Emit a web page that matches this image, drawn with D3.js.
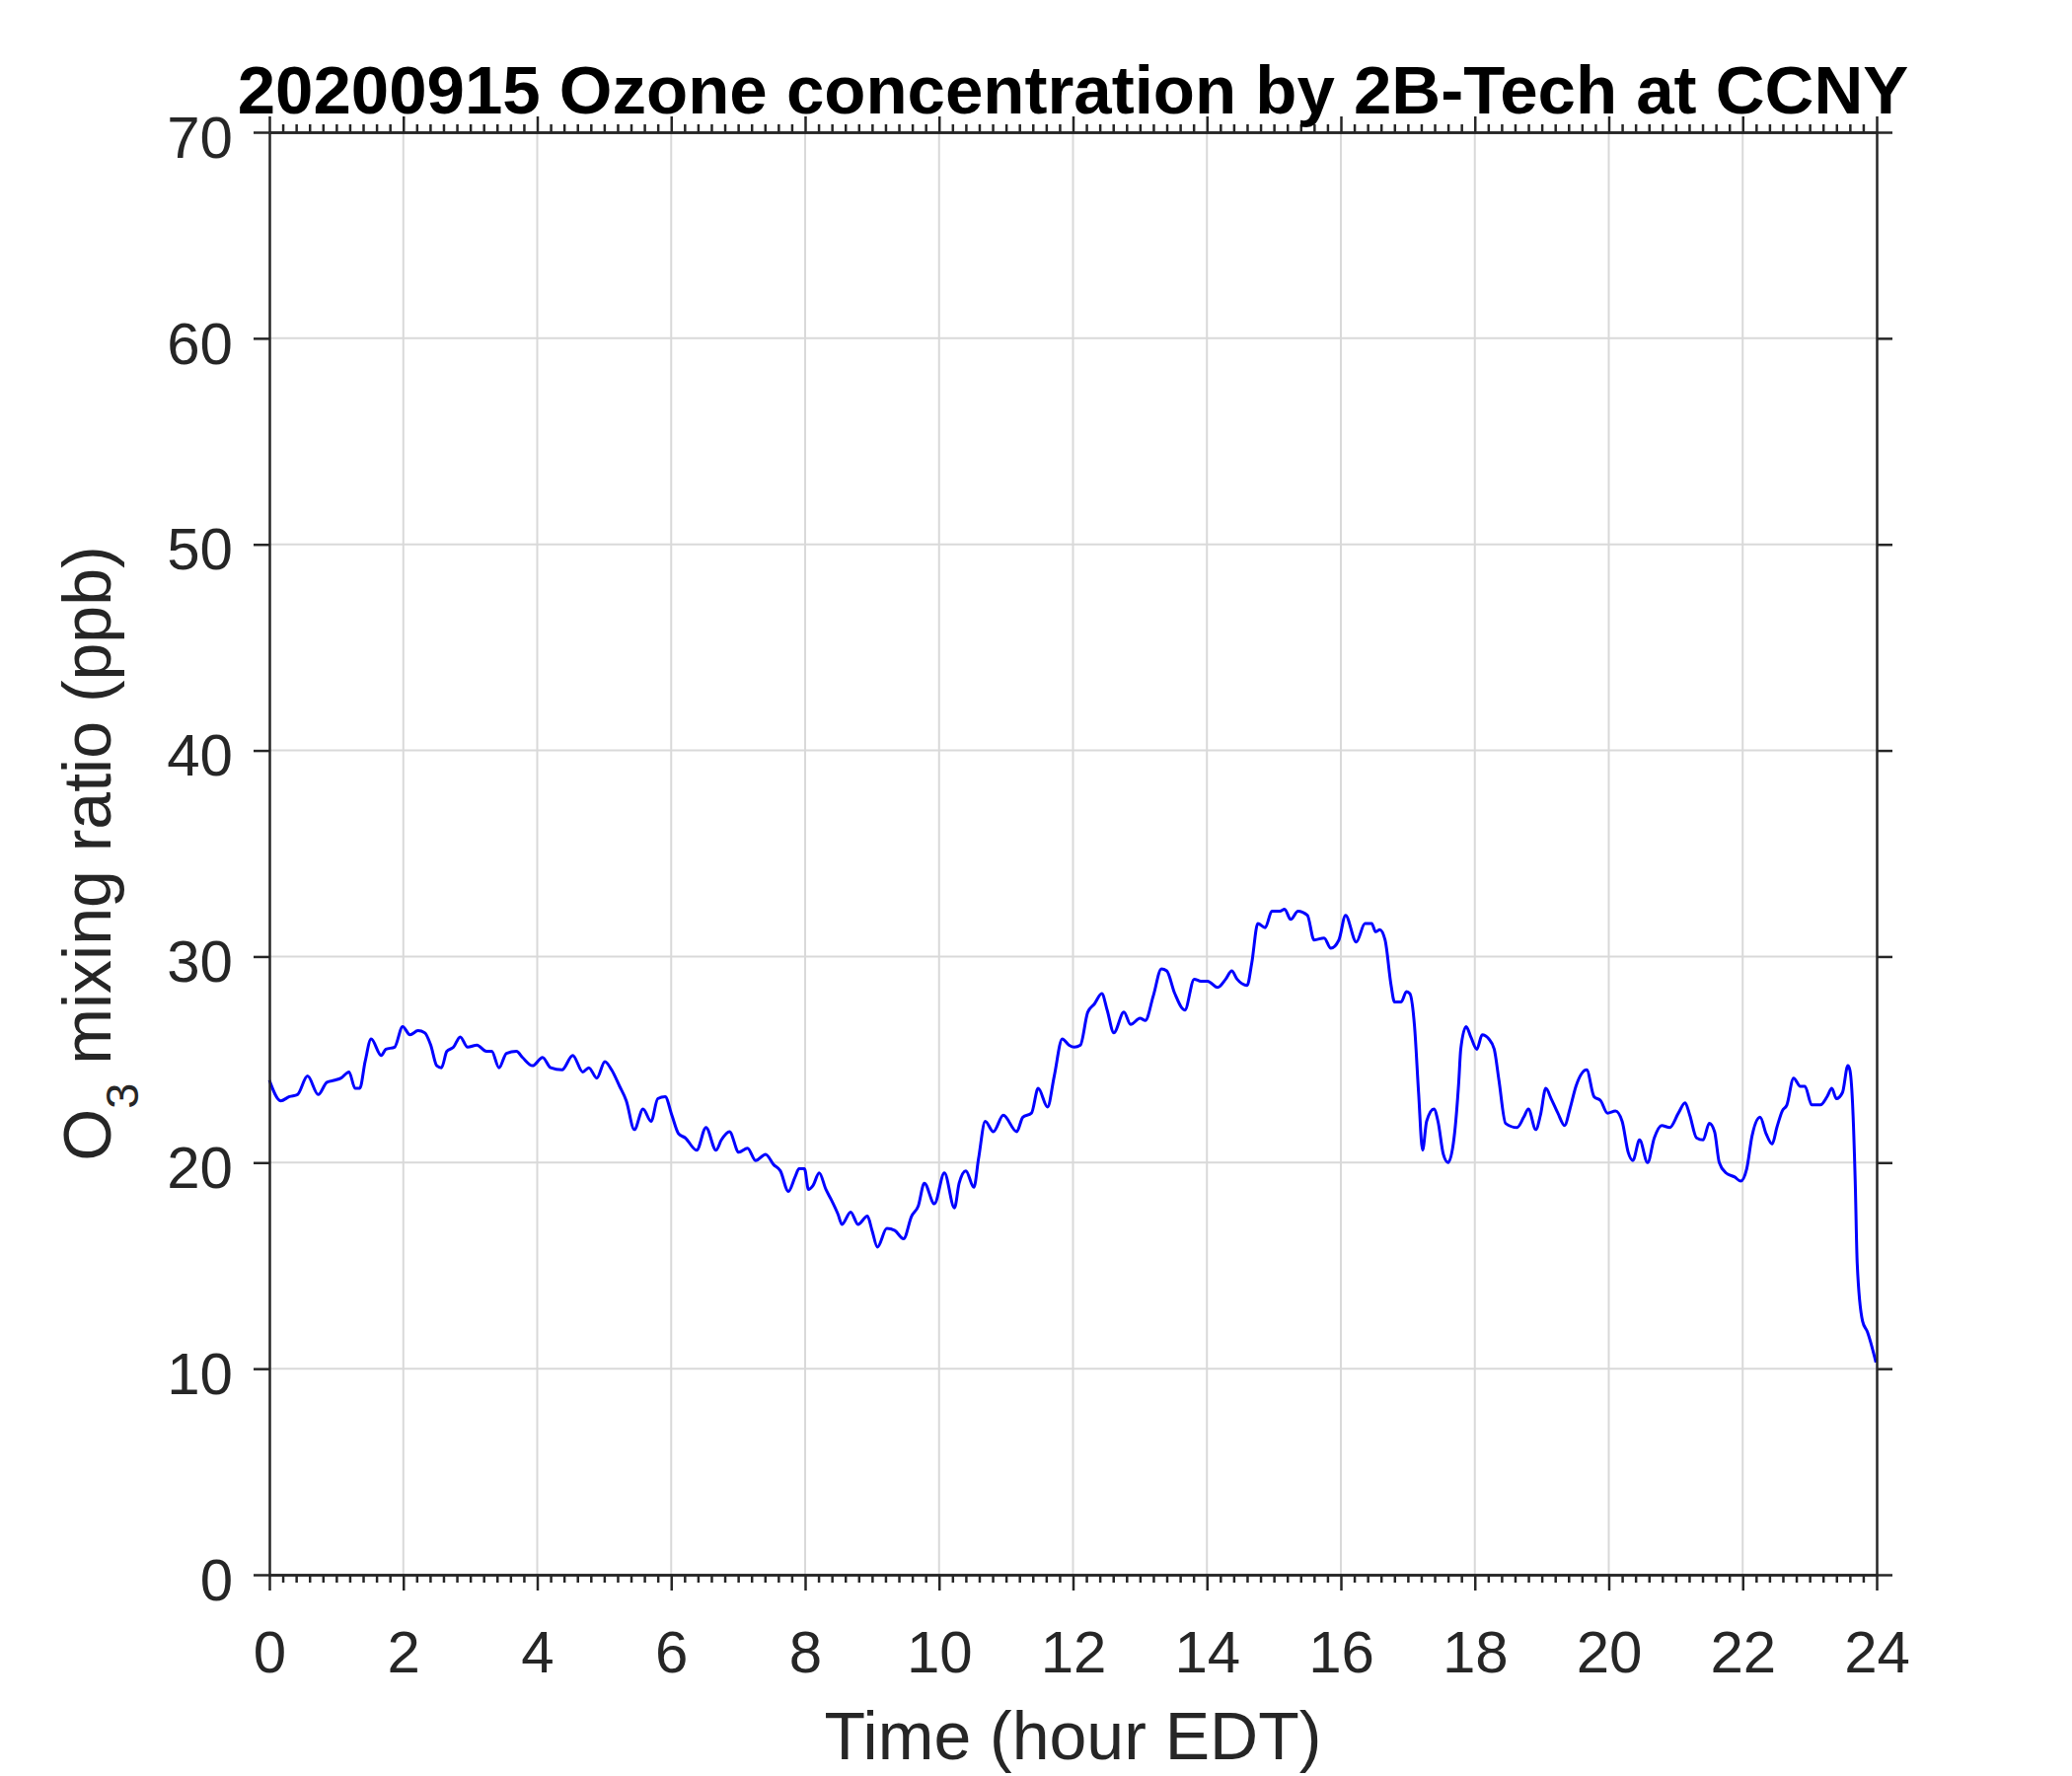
<!DOCTYPE html>
<html>
<head>
<meta charset="utf-8">
<script src="https://cdn.jsdelivr.net/npm/d3@7"></script>
<style>
  html, body { margin: 0; padding: 0; background: #ffffff; }
  svg { display: block; }
  text { font-family: "Liberation Sans", Arial, Helvetica, sans-serif; }
</style>
</head>
<body>
<script>
// ---------------- data ----------------
const chartTitle = "20200915 Ozone concentration by 2B-Tech at CCNY";
const xLabel = "Time (hour EDT)";
const xTicks = [0, 2, 4, 6, 8, 10, 12, 14, 16, 18, 20, 22, 24];
const yTicks = [0, 10, 20, 30, 40, 50, 60, 70];
const xDomain = [0, 24];
const yDomain = [0, 70];

const hours = [
  0, 0.17, 0.30, 0.42, 0.57, 0.73, 0.86, 0.98, 1.07, 1.19, 1.28, 1.35, 1.43, 1.52, 1.67, 1.74, 1.87, 1.99,
  2.10, 2.22, 2.32, 2.41, 2.50, 2.57, 2.65, 2.75, 2.85, 2.96, 3.10, 3.24, 3.32, 3.43, 3.54, 3.69, 3.78, 3.93,
  4.08, 4.20, 4.37, 4.53, 4.68, 4.77, 4.89, 5.01, 5.11, 5.23, 5.33, 5.45, 5.58, 5.70, 5.80, 5.91,
  6.01, 6.11, 6.21, 6.38, 6.52, 6.67, 6.75, 6.87, 7.01, 7.14, 7.26, 7.41, 7.53, 7.63, 7.75, 7.85, 7.91, 7.99,
  8.05, 8.12, 8.21, 8.31, 8.39, 8.49, 8.55, 8.68, 8.79, 8.93, 9.00, 9.08, 9.22, 9.34, 9.47, 9.59, 9.69, 9.78, 9.93,
  10.08, 10.23, 10.30, 10.40, 10.52, 10.59, 10.69, 10.81, 10.96, 11.16, 11.25, 11.38, 11.48, 11.62, 11.72, 11.84, 11.94,
  12.02, 12.11, 12.22, 12.32, 12.43, 12.51, 12.61, 12.76, 12.86, 13.00, 13.08, 13.20, 13.32, 13.40, 13.52, 13.67, 13.81, 13.91,
  14.01, 14.16, 14.28, 14.37, 14.45, 14.60, 14.67, 14.76, 14.87, 14.97, 15.09, 15.16, 15.25, 15.36, 15.50, 15.60, 15.75, 15.85, 15.97,
  16.07, 16.23, 16.36, 16.46, 16.52, 16.58, 16.66, 16.75, 16.80, 16.90, 16.98, 17.03, 17.10, 17.16, 17.22, 17.28, 17.39, 17.45, 17.53,
  17.60, 17.69, 17.76, 17.79, 17.87, 17.94, 18.03, 18.11, 18.21, 18.29, 18.36, 18.46, 18.63, 18.73, 18.80, 18.91, 18.98,
  19.06, 19.14, 19.24, 19.34, 19.42, 19.51, 19.67, 19.78, 19.88, 19.98, 20.10, 20.20, 20.29, 20.36, 20.46, 20.58, 20.68, 20.79, 20.91,
  21.04, 21.14, 21.21, 21.31, 21.41, 21.50, 21.58, 21.65, 21.75, 21.88, 21.97, 22.06, 22.14, 22.26, 22.35, 22.44, 22.51, 22.59, 22.66,
  22.76, 22.86, 22.93, 23.03, 23.16, 23.26, 23.33, 23.40, 23.49, 23.57, 23.60, 23.64, 23.68, 23.71, 23.79, 23.86, 23.99
];
const ozone = [
  24.0, 23.0, 23.2, 23.3, 24.2, 23.3, 23.9, 24.0, 24.1, 24.4, 23.6, 23.6, 24.9, 26.0, 25.2, 25.5, 25.6, 26.6,
  26.2, 26.4, 26.3, 25.7, 24.7, 24.6, 25.4, 25.6, 26.1, 25.6, 25.7, 25.4, 25.4, 24.6, 25.3, 25.4, 25.1, 24.7,
  25.1, 24.6, 24.5, 25.2, 24.4, 24.6, 24.1, 24.9, 24.5, 23.7, 23.0, 21.6, 22.6, 22.0, 23.1, 23.2,
  22.3, 21.4, 21.2, 20.6, 21.7, 20.6, 21.1, 21.5, 20.5, 20.7, 20.1, 20.4, 19.9, 19.6, 18.6, 19.3, 19.7, 19.7,
  18.7, 18.9, 19.5, 18.7, 18.2, 17.5, 17.0, 17.6, 17.0, 17.4, 16.7, 15.9, 16.8, 16.7, 16.3, 17.4, 17.9, 19.0, 18.0,
  19.5, 17.8, 19.0, 19.6, 18.8, 20.2, 22.0, 21.5, 22.3, 21.5, 22.2, 22.4, 23.6, 22.7, 24.2, 26.0, 25.7,
  25.6, 25.7, 27.3, 27.7, 28.2, 27.4, 26.3, 27.3, 26.7, 27.0, 26.9, 28.1, 29.4, 29.3, 28.2, 27.4, 28.9, 28.8,
  28.8, 28.5, 28.9, 29.3, 28.9, 28.6, 29.7, 31.6, 31.4, 32.2, 32.2, 32.3, 31.8, 32.2, 32.0, 30.8, 30.9, 30.4, 30.8,
  32.0, 30.7, 31.6, 31.6, 31.2, 31.3, 30.8, 28.6, 27.8, 27.8, 28.3, 28.2, 26.6, 23.4, 20.6, 22.0, 22.6, 22.0, 20.4,
  20.0, 21.2, 23.9, 25.5, 26.6, 26.1, 25.5, 26.2, 26.0, 25.5, 24.0, 21.9, 21.7, 22.2, 22.6, 21.6, 22.3,
  23.6, 23.1, 22.4, 21.8, 22.6, 23.7, 24.5, 23.2, 23.0, 22.4, 22.5, 22.0, 20.5, 20.1, 21.1, 20.0, 21.2, 21.8, 21.7,
  22.4, 22.9, 22.3, 21.2, 21.1, 21.9, 21.5, 20.0, 19.5, 19.3, 19.1, 19.7, 21.3, 22.2, 21.4, 20.9, 21.7, 22.5, 22.8,
  24.1, 23.7, 23.7, 22.8, 22.8, 23.2, 23.6, 23.1, 23.4, 24.7, 24.5, 22.9, 19.1, 15.1, 12.3, 11.8, 10.3
];

// ---------------- drawing ----------------
const W = 2100, H = 1800;
const margin = { left: 273, right: 2100 - 1902, top: 134, bottom: 1800 - 1596 };
const axisColor = "#262626";

const svg = d3.select("body").append("svg")
  .attr("width", W).attr("height", H)
  .attr("viewBox", `0 0 ${W} ${H}`);
svg.append("rect").attr("width", W).attr("height", H).attr("fill", "#ffffff");

const x = d3.scaleLinear().domain(xDomain).range([margin.left, W - margin.right]);
const y = d3.scaleLinear().domain(yDomain).range([H - margin.bottom, margin.top]);

// grid
const grid = svg.append("g").attr("class", "grid");
grid.selectAll("line.gx").data(xTicks.slice(1, -1)).join("line")
  .attr("x1", d => x(d)).attr("x2", d => x(d))
  .attr("y1", y(yDomain[0])).attr("y2", y(yDomain[1]))
  .attr("stroke", "#d9d9d9").attr("stroke-width", 2);
grid.selectAll("line.gy").data(yTicks.slice(1, -1)).join("line")
  .attr("y1", d => y(d)).attr("y2", d => y(d))
  .attr("x1", x(xDomain[0])).attr("x2", x(xDomain[1]))
  .attr("stroke", "#d9d9d9").attr("stroke-width", 2);

// data line
const pts = hours.map((h, i) => [h, ozone[i]]);
const line = d3.line().x(d => x(d[0])).y(d => y(d[1])).curve(d3.curveMonotoneX);
svg.append("path").datum(pts)
  .attr("d", line)
  .attr("fill", "none")
  .attr("stroke", "#0000ff")
  .attr("stroke-width", 3)
  .attr("stroke-linejoin", "round");

// minor ticks every 0.2 h
const minorX = d3.range(0, 24.0001, 0.2).map(v => +v.toFixed(2)).filter(v => Math.abs(v / 2 - Math.round(v / 2)) > 1e-6);

function styleAxis(g) {
  g.selectAll(".domain").attr("stroke", axisColor).attr("stroke-width", 2.5);
  g.selectAll(".tick line").attr("stroke", axisColor).attr("stroke-width", 2.5);
  g.selectAll(".tick text").attr("fill", axisColor).style("font-size", "60px")
    .style("font-family", '"Liberation Sans", Arial, Helvetica, sans-serif');
}

// bottom axis
const gB = svg.append("g").attr("transform", `translate(0,${y(yDomain[0])})`)
  .call(d3.axisBottom(x).tickValues(xTicks).tickFormat(d3.format("d")).tickSize(16).tickSizeOuter(0).tickPadding(40));
styleAxis(gB);
const gBm = svg.append("g").attr("transform", `translate(0,${y(yDomain[0])})`)
  .call(d3.axisBottom(x).tickValues(minorX).tickFormat("").tickSize(8).tickSizeOuter(0));
styleAxis(gBm);

// top axis
const gT = svg.append("g").attr("transform", `translate(0,${y(yDomain[1])})`)
  .call(d3.axisTop(x).tickValues(xTicks).tickFormat("").tickSize(16).tickSizeOuter(0));
styleAxis(gT);
const gTm = svg.append("g").attr("transform", `translate(0,${y(yDomain[1])})`)
  .call(d3.axisTop(x).tickValues(minorX).tickFormat("").tickSize(8).tickSizeOuter(0));
styleAxis(gTm);

// left axis
const gL = svg.append("g").attr("transform", `translate(${x(xDomain[0])},0)`)
  .call(d3.axisLeft(y).tickValues(yTicks).tickFormat(d3.format("d")).tickSize(16).tickSizeOuter(0).tickPadding(21));
styleAxis(gL);
gL.selectAll(".tick text").attr("dy", "0.42em");

// right axis
const gR = svg.append("g").attr("transform", `translate(${x(xDomain[1])},0)`)
  .call(d3.axisRight(y).tickValues(yTicks).tickFormat("").tickSize(16).tickSizeOuter(0));
styleAxis(gR);

// title
svg.append("text")
  .attr("x", (x(xDomain[0]) + x(xDomain[1])) / 2)
  .attr("y", 115)
  .attr("text-anchor", "middle")
  .attr("fill", "#000000")
  .style("font-weight", "bold")
  .style("font-size", "69px")
  .text(chartTitle);

// x label
svg.append("text")
  .attr("x", (x(xDomain[0]) + x(xDomain[1])) / 2)
  .attr("y", 1783)
  .attr("text-anchor", "middle")
  .attr("fill", axisColor)
  .style("font-size", "68px")
  .text(xLabel);

// y label with subscript
const yl = svg.append("text")
  .attr("transform", `translate(112,${(y(yDomain[0]) + y(yDomain[1])) / 2}) rotate(-90)`)
  .attr("text-anchor", "middle")
  .attr("fill", axisColor)
  .style("font-size", "68px");
yl.append("tspan").text("O");
yl.append("tspan").attr("dy", 28).style("font-size", "47px").text("3");
yl.append("tspan").attr("dy", -28).text(" mixing ratio (ppb)");
</script>
</body>
</html>
